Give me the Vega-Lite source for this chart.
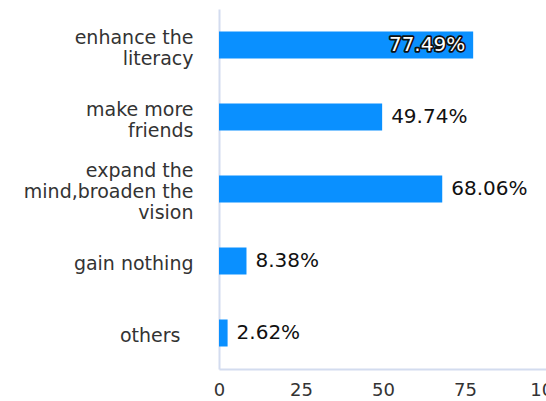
{
  "$schema": "https://vega.github.io/schema/vega-lite/v6.json",
  "width": 328,
  "height": 360,
  "autosize": {"type": "none"},
  "padding": {"left": 219, "top": 9, "right": 0, "bottom": 32},
  "background": "white",
  "config": {"view": {"stroke": null}},
  "data": {
    "values": [
      {"item": "enhance the\nliteracy", "pct": 77.49, "label": "77.49%"},
      {"item": "make more\nfriends", "pct": 49.74, "label": "49.74%"},
      {"item": "expand the\nmind,broaden the\nvision", "pct": 68.06, "label": "68.06%"},
      {"item": "gain nothing", "pct": 8.38, "label": "8.38%"},
      {"item": "others", "pct": 2.62, "label": "2.62%"}
    ]
  },
  "encoding": {
    "y": {
      "field": "item",
      "type": "nominal",
      "sort": null,
      "scale": {"paddingInner": 0.625, "paddingOuter": 0.3125},
      "axis": {
        "title": null,
        "ticks": false,
        "domain": true,
        "domainColor": "#d3dcef",
        "domainWidth": 2,
        "labelExpr": "split(datum.value, '\\n')",
        "labelFont": "DejaVu Sans",
        "labelFontSize": 19,
        "labelLineHeight": 21,
        "labelColor": "#333333",
        "labelPadding": {
          "condition": {"test": "datum.value === 'others'", "value": 39},
          "value": 26
        },
        "labelLimit": 300,
        "labelOffset": {
          "condition": [
            {"test": "indexof(datum.value, 'vision') >= 0", "value": -18},
            {"test": "indexof(datum.value, '\\n') >= 0", "value": -7.5}
          ],
          "value": 3
        }
      }
    },
    "x": {
      "field": "pct",
      "type": "quantitative",
      "scale": {"domain": [0, 100], "nice": false},
      "axis": {
        "title": null,
        "values": [0, 25, 50, 75, 100],
        "grid": false,
        "ticks": false,
        "domain": true,
        "domainColor": "#d3dcef",
        "domainWidth": 2,
        "labelFlush": false,
        "labelFont": "DejaVu Sans",
        "labelFontSize": 18,
        "labelColor": "#333333",
        "labelPadding": 12
      }
    }
  },
  "layer": [
    {"mark": {"type": "bar", "color": "#0a90ff"}},
    {
      "transform": [{"filter": "datum.pct < 75"}],
      "mark": {"type": "text", "align": "left", "baseline": "middle", "dx": 9, "font": "DejaVu Sans", "fontSize": 20, "color": "#111111"},
      "encoding": {"text": {"field": "label", "type": "nominal"}}
    },
    {
      "transform": [{"filter": "datum.pct >= 75"}],
      "mark": {"type": "text", "align": "right", "baseline": "middle", "dx": -8, "font": "DejaVu Sans", "fontSize": 20, "fill": "#111111", "stroke": "#111111", "strokeWidth": 3.5, "strokeJoin": "round"},
      "encoding": {"text": {"field": "label", "type": "nominal"}}
    },
    {
      "transform": [{"filter": "datum.pct >= 75"}],
      "mark": {"type": "text", "align": "right", "baseline": "middle", "dx": -8, "font": "DejaVu Sans", "fontSize": 20, "fill": "white"},
      "encoding": {"text": {"field": "label", "type": "nominal"}}
    }
  ]
}
